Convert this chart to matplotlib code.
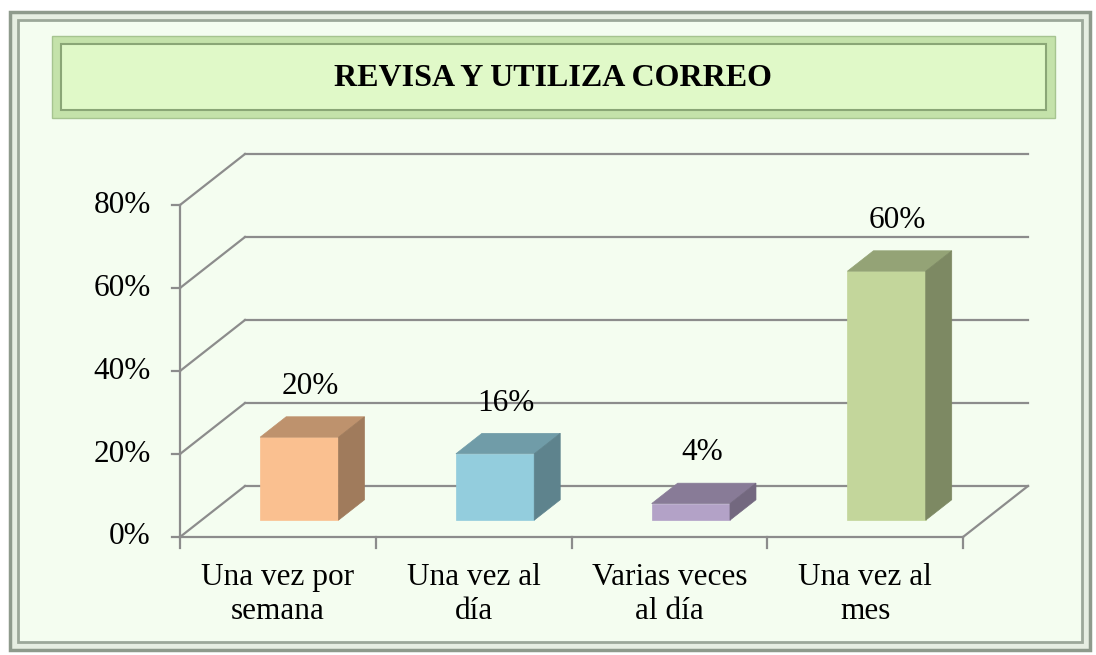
import matplotlib.pyplot as plt
from matplotlib.patches import Polygon, Rectangle

categorias = ['Una vez por\nsemana', 'Una vez al\ndía', 'Varias veces\nal día', 'Una vez al\nmes']
valores = [20, 16, 4, 60]
etiquetas = ['20%', '16%', '4%', '60%']
ticks_y = [0, 20, 40, 60, 80]
colores = ['#FAC090', '#93CDDD', '#B3A2C7', '#C3D69B']

plt.rcParams['font.family'] = ['Liberation Serif', 'DejaVu Serif']

W, H = 1096, 655
fig = plt.figure(figsize=(W / 100, H / 100), dpi=100)
fig.patch.set_facecolor('white')


def rect_px(x0, y0, x1, y1, **kw):
    # rectangulo en pixeles de la figura (origen arriba a la izquierda)
    r = Rectangle((x0 / W, 1 - y1 / H), (x1 - x0) / W, (y1 - y0) / H,
                  transform=fig.transFigure, zorder=-5, **kw)
    fig.add_artist(r)


def oscurecer(c, f):
    r, g, b = [int(c[k:k + 2], 16) for k in (1, 3, 5)]
    return (r * f / 255, g * f / 255, b * f / 255)


# marco exterior con bisel
rect_px(10, 12, 1090, 650, fc='#E6EEE2', ec='#8E9A8C', lw=2.5)
rect_px(18, 20, 1082, 642, fc='#F4FDF0', ec='#9CA89A', lw=2)

# caja del titulo
rect_px(52, 36, 1055, 118, fc='#C4E2AA', ec='#A6C490', lw=1)
rect_px(61, 44, 1046, 110, fc='#E0F9C8', ec='#8AA676', lw=1.5)
fig.text(553 / W, 1 - 78 / H, 'REVISA Y UTILIZA CORREO', ha='center', va='center',
         fontsize=23, fontweight='bold')

ax = fig.add_axes([180 / W, 1 - 537 / H, 783 / W, 332 / H])
ax.set_zorder(5)
ax.set_xlim(-0.5, 3.5)
ax.set_ylim(0, 80)
ax.axis('off')

DX = 65 / 195.75   # profundidad en unidades de x
DY = 51 / 4.15     # profundidad en unidades de %
gris = '#8C8C8C'
lw = 1.6
fs = 22.5

for t in ticks_y:
    ax.plot([-0.5 + DX, 3.5 + DX], [t + DY, t + DY], color=gris, lw=lw, clip_on=False)
    ax.plot([-0.5, -0.5 + DX], [t, t + DY], color=gris, lw=lw, clip_on=False)
    ax.plot([-0.54, -0.5], [t, t], color=gris, lw=lw, clip_on=False)
    ax.text(-0.65, t, f'{t}%', ha='right', va='center', fontsize=fs)

ax.plot([-0.5, -0.5], [0, 80], color=gris, lw=lw, clip_on=False)
ax.plot([-0.5, 3.5], [0, 0], color=gris, lw=lw, clip_on=False)
ax.plot([3.5, 3.5 + DX], [0, DY], color=gris, lw=lw, clip_on=False)
for k in range(len(categorias) + 1):
    ax.plot([k - 0.5, k - 0.5], [0, -2.7], color=gris, lw=lw, clip_on=False)

for i, cat in enumerate(categorias):
    ax.text(i, -6.3, cat, ha='center', va='top', fontsize=fs, linespacing=1.22)

# barras 3D
d0, d1 = 0.33, 0.73
ancho = 0.2
for i, v in enumerate(valores):
    x0 = i - ancho + d0 * DX
    x1 = i + ancho + d0 * DX
    yb = d0 * DY
    yt = v + d0 * DY
    wx = (d1 - d0) * DX
    wy = (d1 - d0) * DY
    c = colores[i]
    ax.add_patch(Rectangle((x0, yb), x1 - x0, v, fc=c, ec=c, lw=0.5, clip_on=False, zorder=3))
    ax.add_patch(Polygon([(x0, yt), (x1, yt), (x1 + wx, yt + wy), (x0 + wx, yt + wy)],
                         fc=oscurecer(c, 0.76), ec=oscurecer(c, 0.76), lw=0.5, clip_on=False, zorder=3))
    ax.add_patch(Polygon([(x1, yb), (x1 + wx, yb + wy), (x1 + wx, yt + wy), (x1, yt)],
                         fc=oscurecer(c, 0.64), ec=oscurecer(c, 0.64), lw=0.5, clip_on=False, zorder=3))
    ax.text(i + (d0 + d1) / 2 * DX - 0.01, v + d1 * DY + 7.3, etiquetas[i],
            ha='center', va='center', fontsize=fs)

fig.savefig('out.png', dpi=100)
